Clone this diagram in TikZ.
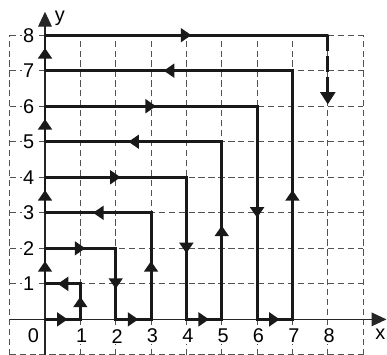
\documentclass[tikz,border=0pt]{standalone}
\usepackage{fontspec}
\setmainfont{Liberation Sans}
\usetikzlibrary{arrows.meta,decorations.markings}
\begin{document}
\begin{tikzpicture}[x=1cm,y=1.005cm,
  gridline/.style={draw=black!68, line width=0.8pt, dash pattern=on 5pt off 3pt},
  axisline/.style={draw=black!85, line width=1pt, -{Triangle[length=12pt,width=11pt]}},
  route/.style={draw=black!90, line width=2.4pt, line join=miter},
  midarrow/.style={postaction={decorate}, decoration={markings, mark=at position 0.5 with {\arrow[xshift=4pt]{Triangle[length=8.5pt,width=11pt]}}}},
  ticklab/.style={fill=white, inner sep=1pt, font=\fontsize{16}{18}\selectfont},
  axlab/.style={inner sep=0pt, font=\fontsize{16}{18}\selectfont}
]
\useasboundingbox (-1.273,-0.975) rectangle (9.675,8.99);
% dashed grid
\foreach \x in {-1,...,9} \draw[gridline] (\x,-1) -- (\x,8);
\foreach \y in {-1,...,8} \draw[gridline] (-1,\y) -- (9,\y);
% axes
\coordinate (xs) at (-1,0); \coordinate (xe) at (9.66,0);
\coordinate (ys) at (0,-1); \coordinate (ye) at (0,8.66);
\draw[axisline] (xs) -- (xe);
\draw[axisline] (ys) -- (ye);
\node[axlab] (lx) at (9.49,-0.42) {x};
\node[axlab] (ly) at (0.42,8.47) {y};
% tick labels
\node[ticklab] (t0) at (-0.33,-0.46) {0};
\foreach \i in {1,...,8} {
  \node[ticklab] (tx\i) at (\i+0.04,-0.47) {\i};
  \node[ticklab] (ty\i) at (-0.46,\i) {\i};
}
% route vertices
\foreach \i/\x/\y in {0/0/0,1/1/0,2/1/1,3/0/1,4/0/2,5/2/2,6/2/0,7/3/0,8/3/3,9/0/3,10/0/4,11/4/4,12/4/0,13/5/0,14/5/5,15/0/5,16/0/6,17/6/6,18/6/0,19/7/0,20/7/7,21/0/7,22/0/8,23/8/8}
  \coordinate (p\i) at (\x,\y);
\coordinate (pe) at (8,6.05);
\draw[route, line cap=round] (p0) \foreach \i in {1,...,23} {-- (p\i)};
\foreach \a in {0,...,22} {
  \pgfmathtruncatemacro\b{\a+1}
  \draw[route, midarrow] (p\a) -- (p\b);
}
\draw[route, dash pattern=on 13pt off 4pt, -{Triangle[length=10pt,width=12pt]}] (p23) -- (pe);
\end{tikzpicture}
\end{document}
